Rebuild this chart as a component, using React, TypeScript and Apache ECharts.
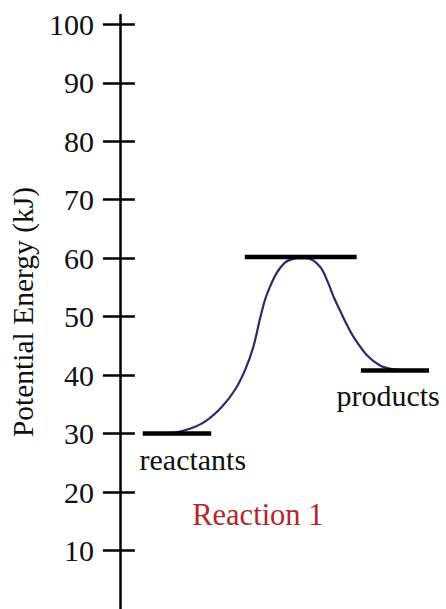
import React, { useEffect, useRef } from "react";
import * as echarts from "echarts";

// Energy levels (kJ) and their extents along the reaction coordinate (0–100)
const reactantsLevel = [[7, 30], [28, 30]];
const transitionLevel = [[38.3, 60.2], [72.6, 60.2]];
const productsLevel = [[73.9, 40.8], [94.8, 40.8]];

// Reaction path (reaction coordinate, potential energy kJ)
const pathX = [15.1, 21.2, 26.2, 31.3, 35.3, 38.4, 40.9, 42.9, 44.5, 46.0, 48.0, 50.5, 52.6, 55.6, 58.7, 61.7, 63.7, 65.7, 67.8, 69.8, 71.8, 75.9, 79.9, 83.0, 86.0];
const pathY = [30.0, 30.8, 32.1, 34.6, 37.5, 40.9, 44.8, 49.5, 52.9, 55.1, 57.4, 59.2, 59.8, 60.0, 59.8, 58.3, 56.0, 53.2, 50.7, 48.4, 46.4, 43.3, 41.6, 41.1, 40.9];

const yTicks = [10, 20, 30, 40, 50, 60, 70, 80, 90, 100];
const yAxisName = "Potential Energy (kJ)";

// Annotations: [x, y, text]
const annotations: [number, number, string][] = [
  [6.0, 25.6, "reactants"],
  [66.4, 36.6, "products"],
];
const reactionTitle: [number, number, string] = [42.3, 16.0, "Reaction 1"];

const FONT = "'Liberation Serif', 'Times New Roman', serif";

export default function App() {
  const ref = useRef<HTMLDivElement>(null);
  useEffect(() => {
    if (!ref.current) return;
    const chart = echarts.init(ref.current, null, { renderer: "svg" });
    const pathData = pathX.map((x, i) => [x, pathY[i]]);
    const levelLine = (data: number[][]) => ({
      type: "line",
      data,
      symbol: "none",
      lineStyle: { color: "#000", width: 4.5 },
      silent: true,
    });
    const yBase = {
      type: "value",
      min: 0,
      max: 101.6,
      position: "left",
      splitLine: { show: false },
    };
    chart.setOption({
      animation: false,
      grid: { left: 117, right: 0, top: 15, bottom: 0, containLabel: false },
      xAxis: { type: "value", min: 0, max: 100, show: false },
      yAxis: [
        {
          ...yBase,
          name: yAxisName,
          nameLocation: "middle",
          nameGap: 66,
          nameTextStyle: { fontFamily: FONT, fontSize: 29.5, color: "#111" },
          axisLine: { show: true, lineStyle: { color: "#000", width: 2.5 } },
          axisTick: {
            show: true,
            length: 17,
            inside: false,
            customValues: yTicks,
            lineStyle: { color: "#000", width: 2.5 },
          },
          axisLabel: {
            show: true,
            customValues: yTicks,
            margin: 26,
            fontFamily: FONT,
            fontSize: 30,
            color: "#111",
          },
        },
        {
          ...yBase,
          axisLine: { show: false },
          axisTick: {
            show: true,
            length: 15,
            inside: true,
            customValues: yTicks,
            lineStyle: { color: "#000", width: 2.5 },
          },
          axisLabel: { show: false },
        },
      ],
      series: [
        {
          type: "line",
          data: pathData,
          smooth: 0.3,
          symbol: "none",
          lineStyle: { color: "#2b2b6b", width: 2.2 },
          silent: true,
        },
        levelLine(reactantsLevel),
        levelLine(transitionLevel),
        levelLine(productsLevel),
        {
          type: "scatter",
          data: annotations.map((a) => ({ value: [a[0], a[1]], name: a[2] })),
          symbolSize: 0.1,
          itemStyle: { opacity: 1, color: "rgba(0,0,0,0)" },
          label: {
            show: true,
            position: "right",
            distance: 0,
            formatter: (p: any) => p.name,
            fontFamily: FONT,
            fontSize: 30,
            color: "#111",
            opacity: 1,
            align: "left",
            verticalAlign: "middle",
          },
          silent: true,
        },
        {
          type: "scatter",
          data: [{ value: [reactionTitle[0], reactionTitle[1]], name: reactionTitle[2] }],
          symbolSize: 0.1,
          itemStyle: { opacity: 1, color: "rgba(0,0,0,0)" },
          label: {
            show: true,
            position: "inside",
            formatter: (p: any) => p.name,
            fontFamily: FONT,
            fontSize: 30.5,
            color: "#b3262e",
            opacity: 1,
            align: "center",
            verticalAlign: "middle",
          },
          silent: true,
        },
      ],
    });
    return () => chart.dispose();
  }, []);
  return (
    <div
      ref={ref}
      style={{ position: "absolute", left: 0, top: 0, width: 446, height: 609 }}
    />
  );
}
